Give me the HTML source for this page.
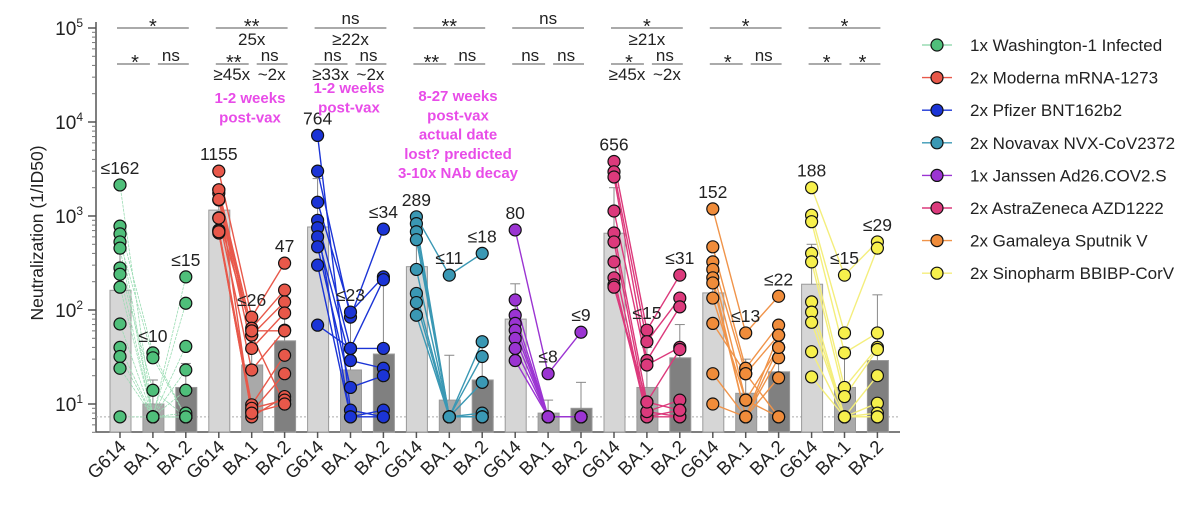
<!DOCTYPE html>
<html><head><meta charset="utf-8"><style>
body{margin:0;background:#fff;}
svg{font-family:"Liberation Sans",Arial,sans-serif;}
</style></head><body>
<svg id="chart" width="1200" height="507" viewBox="0 0 1200 507" xmlns="http://www.w3.org/2000/svg"></svg>
<script>
const groups = ["Washington-1","Moderna","Pfizer","Novavax","Janssen","AstraZeneca","Sputnik","Sinopharm"];
const variants = ["G614","BA.1","BA.2"];
const legendLabels = ["1x Washington-1 Infected","2x Moderna mRNA-1273","2x Pfizer BNT162b2","2x Novavax NVX-CoV2372","1x Janssen Ad26.COV2.S","2x AstraZeneca AZD1222","2x Gamaleya Sputnik V","2x Sinopharm BBIBP-CorV"];
const colors = ["#4fbf7a","#e8584a","#1b34d6","#3a98b4","#9b34d2","#dc3a7c","#f08c3a","#f7f04c"];
const lineColors = ["#9adcb3","#e8584a","#1b34d6","#3a98b4","#9b34d2","#dc3a7c","#f0944a","#f4ee7c"];
const barMeans = [[162,10,15],[1155,26,47],[764,23,34],[289,11,18],[80,8,9],[656,15,31],[152,13,22],[188,15,29]];
const barLabels = [["≤162","≤10","≤15"],["1155","≤26","47"],["764","≤23","≤34"],["289","≤11","≤18"],["80","≤8","≤9"],["656","≤15","≤31"],["152","≤13","≤22"],["188","≤15","≤29"]];
const errTops = [[560,18,27],[1600,60,100],[2500,80,200],[600,33,45],[190,11,17],[2000,40,70],[330,30,45],[500,40,145]];
const g614Vals = [
 [2140,780,645,530,455,280,240,175,71,40,32,24,7.3],
 [3000,1900,1750,1480,960,710,660,1900,1500,950,700,680],
 [7200,3000,1400,900,750,600,470,300,69],
 [980,830,680,560,270,150,120,88],
 [710,128,88,72,61,50,39,29],
 [3800,2950,2600,1130,660,530,325,220,185,175],
 [1190,470,325,270,220,194,134,72,21,10],
 [2000,1020,870,400,325,122,95,74,36,19.4]];
const ba1Vals = [
 [7.3,35,7.3,31,7.3,14,7.3,7.3,7.3,7.3,7.3,7.3,7.3],
 [84,64,54,39,23,9.8,8.3,7.3,54,60,9,8],
 [8.6,84,95,39,7.3,29,15,7.3,39],
 [235,7.3,7.3,7.3,7.3,7.3,7.3,7.3],
 [21,7.3,7.3,7.3,7.3,7.3,7.3,7.3],
 [61,46,29,26,10.5,8.3,7.3,7.3,8.3,10.5],
 [57,24,21,11,7.3,7.3,11,21,7.3,7.3],
 [235,57,35,15,12,7.3,7.3,7.3,7.3,7.3]];
const ba2Vals = [
 [7.3,7.3,225,7.3,118,7.3,41,7.3,23,14,7.3,8,7.3],
 [315,163,122,93,61,33,21,12,10,60,11,10],
 [7.3,725,225,210,8.6,24,20,7.3,39],
 [400,46,32,17,8,7.3,7.3,7.3],
 [58,7.3,7.3,7.3,7.3,7.3,7.3,7.3],
 [235,134,108,40,38,11,8.6,7.3,7.3,8.6],
 [140,69,54,40,31,19,7.3,7.3,40,54],
 [530,455,57,40,38,20,10.2,8,7.3,7.3]];
const sigTop = ["*","**","ns","**","ns","*","*","*"];
const foldTop = ["","25x","≥22x","","","≥21x","",""];
const sigLeft = ["*","**","ns","**","ns","*","*","*"];
const sigRight = ["ns","ns","ns","ns","ns","ns","ns","*"];
const foldLeft = ["","≥45x","≥33x","","","≥45x","",""];
const foldRight = ["","~2x","~2x","","","~2x","",""];
const yTickExps = [1,2,3,4,5];
const lod = 7.3;

const NS="http://www.w3.org/2000/svg";
const svg=document.getElementById('chart');
function el(tag,attrs,parent){const e=document.createElementNS(NS,tag);for(const k in attrs)e.setAttribute(k,attrs[k]);(parent||svg).appendChild(e);return e;}
function y(v){return 404-(Math.log10(v)-1)*94;}
function x(g,k){return 120+98.8*g+32.9*k;}
const barFill=["#d6d6d6","#a9a9a9","#808080"];

let ax=el('line',{x1:96,y1:22,x2:96,y2:432,stroke:'#555','stroke-width':1.5});


for(let e=1;e<=5;e++){
  el('line',{x1:88,x2:96,y1:y(Math.pow(10,e)),y2:y(Math.pow(10,e)),stroke:'#555','stroke-width':1.5});
  if(e<5)for(let m=2;m<10;m++)el('line',{x1:92,x2:96,y1:y(m*Math.pow(10,e)),y2:y(m*Math.pow(10,e)),stroke:'#777','stroke-width':1});
}
for(let m=5;m<10;m++)el('line',{x1:92,x2:96,y1:y(m),y2:y(m),stroke:'#777','stroke-width':1});
yTickExps.forEach(e=>{
  const t=el('text',{x:83,y:y(Math.pow(10,e))+7,'text-anchor':'end','font-size':19,fill:'#222'});
  
  
  t.innerHTML='10<tspan dy="-8" font-size="12">'+e+'</tspan>';
});
const yt=el('text',{transform:'translate(43,233) rotate(-90)','text-anchor':'middle','font-size':17.5,fill:'#222'});
yt.textContent='Neutralization (1/ID50)';


const xa=el('line',{x1:96,y1:432,x2:900,y2:432,stroke:'#555','stroke-width':1.5});


const ld=el('line',{x1:96,y1:y(lod),x2:900,y2:y(lod),stroke:'#aaa','stroke-width':1,'stroke-dasharray':'2,2'});



groups.forEach((gname,g)=>{
  variants.forEach((v,k)=>{
    const cx=x(g,k), top=y(barMeans[g][k]);
    const b=el('rect',{x:cx-10,y:top,width:21,height:432-top,fill:barFill[k],stroke:'#999','stroke-width':1});
    
    
    const et=y(errTops[g][k]);
    el('line',{x1:cx,x2:cx,y1:top,y2:et,stroke:'#888','stroke-width':1});
    el('line',{x1:cx-5,x2:cx+5,y1:et,y2:et,stroke:'#888','stroke-width':1});
    el('line',{x1:cx,x2:cx,y1:432,y2:438,stroke:'#555','stroke-width':1.5});
    const tl=el('text',{transform:`translate(${cx+7},448) rotate(-45)`,'text-anchor':'end','font-size':18.5,fill:'#222'});
    tl.textContent=v;
    
    
  });
  const G=g614Vals[g],B1=ba1Vals[g],B2=ba2Vals[g];
  const lw=g===0?0.8:1.4;
  for(let i=0;i<G.length;i++){
    const p=el('polyline',{points:`${x(g,0)},${y(G[i])} ${x(g,1)},${y(B1[i])} ${x(g,2)},${y(B2[i])}`,fill:'none',stroke:lineColors[g],'stroke-width':lw,'stroke-dasharray':g===0?'3,1':'none'});
    
    
  }
  [G,B1,B2].forEach((arr,k)=>{
    arr.forEach(val=>{
      const c=el('circle',{cx:x(g,k),cy:y(val),r:6,fill:colors[g],stroke:'#111','stroke-width':1.2});
      
      
    });
    const mx=Math.max.apply(null,arr);
    const lt=el('text',{x:x(g,k),y:y(mx)-11,'text-anchor':'middle','font-size':17.5,fill:'#222'});
    lt.textContent=barLabels[g][k];
    
    
  });
  const x0=x(g,0)-3,x2=x(g,2)+3,mid=(x0+x2)/2;
  el('line',{x1:x0,x2:x2,y1:28,y2:28,stroke:'#777','stroke-width':1.2});
  const st=el('text',{x:mid,y:sigTop[g]==='ns'?24:33,'text-anchor':'middle','font-size':sigTop[g]==='ns'?17:20,fill:'#222'});
  st.textContent=sigTop[g];
  
  
  if(foldTop[g]){const f=el('text',{x:mid,y:45,'text-anchor':'middle','font-size':17,fill:'#222'});f.textContent=foldTop[g];
    
    }
  const lm=x(g,0)+15, rm=x(g,1)+18;
  el('line',{x1:x0,x2:x(g,1)-3,y1:64,y2:64,stroke:'#777','stroke-width':1.2});
  el('line',{x1:x(g,1)+5,x2:x2,y1:64,y2:64,stroke:'#777','stroke-width':1.2});
  [[sigLeft[g],lm],[sigRight[g],rm]].forEach(([s,px])=>{
    const t=el('text',{x:px,y:s==='ns'?61:69,'text-anchor':'middle','font-size':s==='ns'?17:20,fill:'#222'});
    t.textContent=s;
    
    
  });
  if(foldLeft[g]){
    const a=el('text',{x:lm-2,y:80,'text-anchor':'middle','font-size':17,fill:'#222'});a.textContent=foldLeft[g];
    
    
    const b=el('text',{x:rm+2,y:80,'text-anchor':'middle','font-size':17,fill:'#222'});b.textContent=foldRight[g];
    
    
  }
});
function note(lines,cx,y0,name){
  const t=el('text',{x:cx,y:y0,'text-anchor':'middle','font-size':15,'font-weight':'bold',fill:'#e84ce8'});
  
  
  lines.forEach((l,i)=>{const s=el('tspan',{x:cx,dy:i?19.3:0},t);s.textContent=l;});
}
note(["1-2 weeks","post-vax"],250,103,'moderna-note');
note(["1-2 weeks","post-vax"],349,93,'pfizer-note');
note(["8-27 weeks","post-vax","actual date","lost? predicted","3-10x NAb decay"],458,101,'novavax-note');
legendLabels.forEach((lab,i)=>{
  const ly=45+i*32.6;
  const g=el('g',{});
  
  
  el('line',{x1:922,x2:952,y1:ly,y2:ly,stroke:lineColors[i],'stroke-width':1.4},g);
  el('circle',{cx:937,cy:ly,r:6,fill:colors[i],stroke:'#111','stroke-width':1.2},g);
  const t=el('text',{x:970,y:ly+6,'font-size':17,fill:'#222'},g);
  t.textContent=lab;
});
</script>
</body></html>
